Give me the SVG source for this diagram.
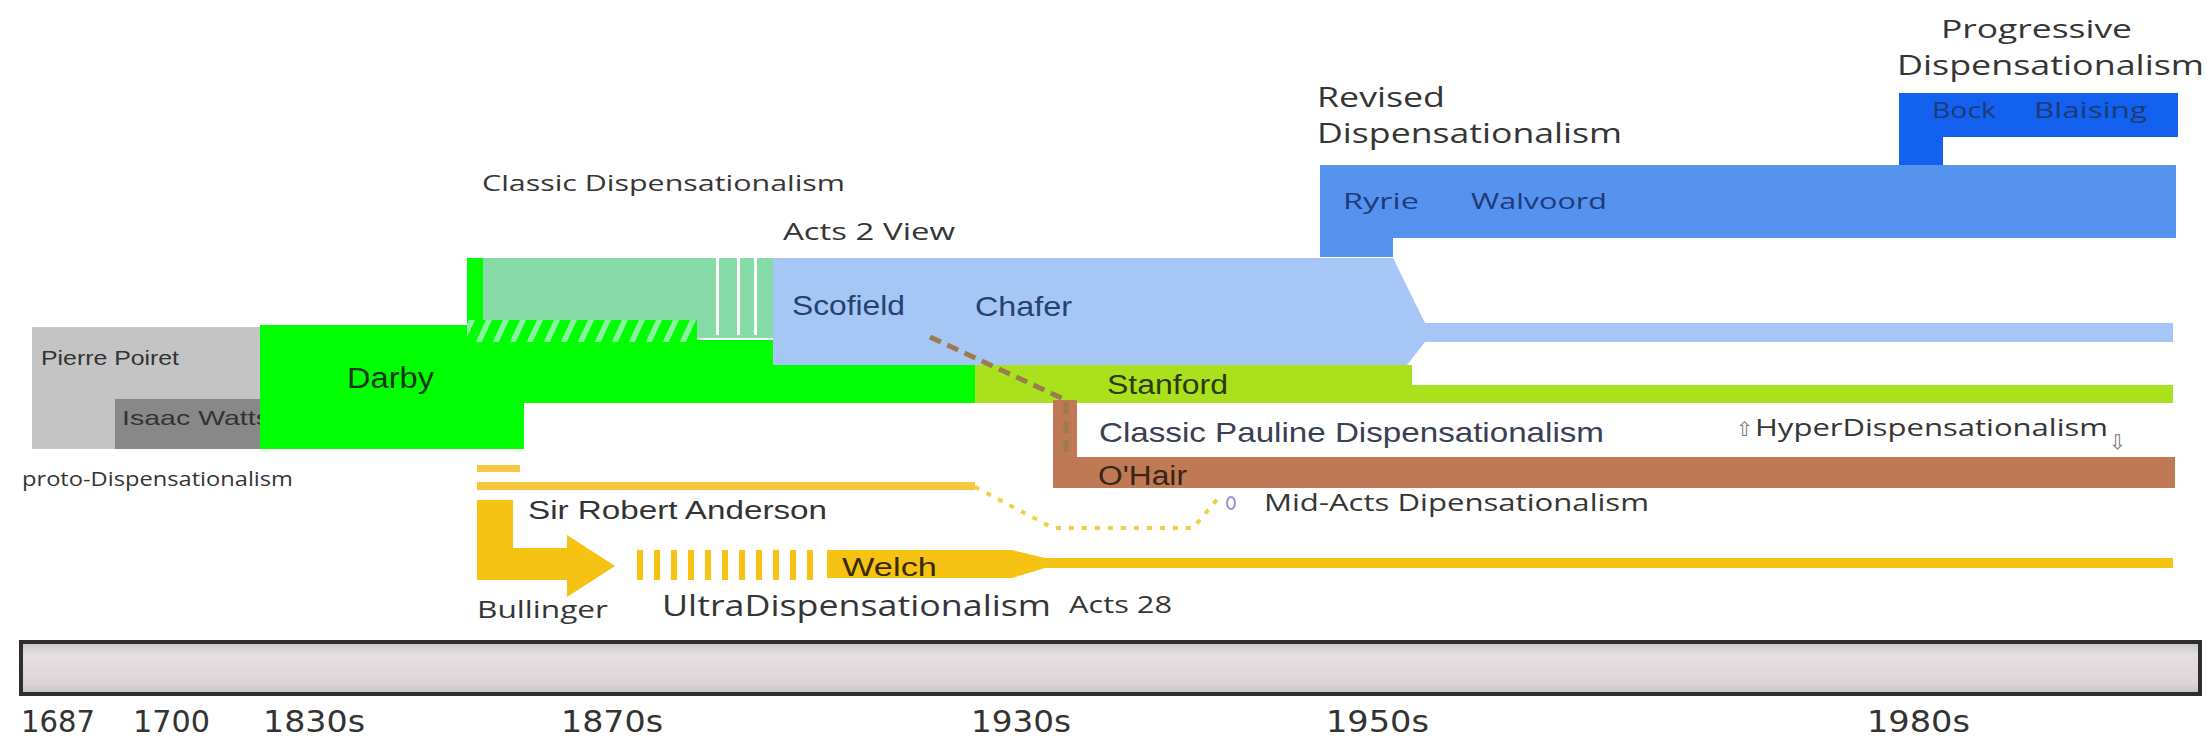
<svg xmlns="http://www.w3.org/2000/svg" width="2209" height="741" viewBox="0 0 2209 741">
<defs>
<style>
.os{font-family:"Open Sans","DejaVu Sans",sans-serif;fill:#353535}
.ls{font-family:"Liberation Sans",Arial,sans-serif;fill:#333}
.yr{font-family:"DejaVu Sans","Liberation Sans",sans-serif;fill:#333;font-size:31px}
.gold{fill:#f6c214}
.dk{fill:#1f3a78}
</style>
<pattern id="hatch" width="17" height="24" patternUnits="userSpaceOnUse" patternTransform="translate(467,320) skewX(-25)">
<rect width="17" height="24" fill="#00ff00"/>
<rect x="2" width="6" height="24" fill="#8cf0a2"/>
</pattern>
<linearGradient id="bar" x1="0" y1="0" x2="0" y2="1">
<stop offset="0" stop-color="#c9c3c5"/>
<stop offset="0.25" stop-color="#e6dfe1"/>
<stop offset="0.8" stop-color="#dcd4d7"/>
<stop offset="1" stop-color="#c6bfc2"/>
</linearGradient>
</defs>
<rect width="2209" height="741" fill="#ffffff"/>

<g id="proto">
<rect x="32" y="327" width="228" height="122" fill="#c4c4c4"/>
<rect x="115" y="399" width="145" height="50" fill="#888888"/>
<text class="ls" x="41" y="365" font-size="21" textLength="138" lengthAdjust="spacingAndGlyphs">Pierre Poiret</text>
<text class="ls" x="122" y="425" font-size="21" textLength="148" lengthAdjust="spacingAndGlyphs">Isaac Watts</text>
<text class="os" x="22" y="486" font-size="20" textLength="271" lengthAdjust="spacingAndGlyphs">proto-Dispensationalism</text>
</g>

<g id="darby">
<rect x="260" y="325" width="264" height="124" fill="#00ff00"/>
<rect x="467" y="258" width="16" height="85" fill="#00ff00"/>
<rect x="467" y="340" width="508" height="63" fill="#00ff00"/>
<text x="347" y="388" font-family="Liberation Sans, Arial, sans-serif" font-size="30" fill="#17351a" textLength="87" lengthAdjust="spacingAndGlyphs">Darby</text>
</g>

<g id="classic">
<rect x="483" y="258" width="290" height="80" fill="#86dba6"/>
<rect x="467" y="320" width="230" height="22" fill="url(#hatch)"/>
<rect x="716" y="258" width="3" height="77" fill="#ffffff"/>
<rect x="737" y="258" width="3" height="77" fill="#ffffff"/>
<rect x="754" y="258" width="3" height="77" fill="#ffffff"/>
<text class="os" x="482" y="191" font-size="22" textLength="363" lengthAdjust="spacingAndGlyphs">Classic Dispensationalism</text>
</g>

<g id="acts2">
<polygon points="773,258 1393,258 1425,323 2173,323 2173,342 1425,342 1407,365 773,365" fill="#a6c6f6"/>
<text class="os" x="783" y="240" font-size="24" textLength="172" lengthAdjust="spacingAndGlyphs">Acts 2 View</text>
<text x="792" y="315" font-family="Liberation Sans, Arial, sans-serif" font-size="28" fill="#27406e" textLength="113" lengthAdjust="spacingAndGlyphs">Scofield</text>
<text x="975" y="316" font-family="Liberation Sans, Arial, sans-serif" font-size="28" fill="#27406e" textLength="97" lengthAdjust="spacingAndGlyphs">Chafer</text>
</g>

<g id="revised">
<polygon points="1320,165 2176,165 2176,238 1393,238 1393,257 1320,257" fill="#5593ef"/>
<text class="os" x="1317" y="107" font-size="28" textLength="128" lengthAdjust="spacingAndGlyphs">Revised</text>
<text class="os" x="1317" y="143" font-size="28" textLength="305" lengthAdjust="spacingAndGlyphs">Dispensationalism</text>
<text class="os dk" x="1343" y="209" font-size="22" textLength="76" lengthAdjust="spacingAndGlyphs">Ryrie</text>
<text class="os dk" x="1471" y="209" font-size="22" textLength="136" lengthAdjust="spacingAndGlyphs">Walvoord</text>
</g>

<g id="progressive">
<polygon points="1899,93 2178,93 2178,137 1943,137 1943,165 1899,165" fill="#1262ef"/>
<text class="os" x="1941" y="38" font-size="25" textLength="191" lengthAdjust="spacingAndGlyphs">Progressive</text>
<text class="os" x="1897" y="75" font-size="27" textLength="307" lengthAdjust="spacingAndGlyphs">Dispensationalism</text>
<text class="os dk" x="1932" y="118" font-size="22" textLength="64" lengthAdjust="spacingAndGlyphs">Bock</text>
<text class="os dk" x="2034" y="118" font-size="22" textLength="113" lengthAdjust="spacingAndGlyphs">Blaising</text>
</g>

<g id="stanford">
<polygon points="975,365 1412,365 1412,385 2173,385 2173,403 975,403" fill="#a9e21c"/>
<text x="1107" y="394" font-family="Liberation Sans, Arial, sans-serif" font-size="27" fill="#2c3a0e" textLength="121" lengthAdjust="spacingAndGlyphs">Stanford</text>
</g>

<g id="pauline">
<text x="1099" y="442" font-family="Liberation Sans, Arial, sans-serif" font-size="28" fill="#3a4052" textLength="505" lengthAdjust="spacingAndGlyphs">Classic Pauline Dispensationalism</text>
</g>

<g id="hyper">
<text x="1736" y="436" font-family="DejaVu Sans, sans-serif" font-size="20" fill="#777">⇧</text>
<text class="os" x="1755" y="436" font-size="24" textLength="353" lengthAdjust="spacingAndGlyphs">HyperDispensationalism</text>
<text x="2109" y="449" font-family="DejaVu Sans, sans-serif" font-size="20" fill="#777">⇩</text>
</g>

<g id="ohair">
<polygon points="1053,400 1077,400 1077,457 2175,457 2175,488 1053,488" fill="#bf7a55"/>
<text x="1098" y="485" font-family="Liberation Sans, Arial, sans-serif" font-size="27" fill="#3a2414" textLength="89" lengthAdjust="spacingAndGlyphs">O'Hair</text>
</g>

<g id="anderson">
<rect x="477" y="465" width="43" height="7" fill="#f6c640"/>
<rect x="477" y="482" width="498" height="8" fill="#f6c640"/>
<text class="ls" x="528" y="519" font-size="26" textLength="299" lengthAdjust="spacingAndGlyphs">Sir Robert Anderson</text>
</g>

<g id="midacts">
<ellipse cx="1231" cy="503" rx="4" ry="6" fill="none" stroke="#9a90d0" stroke-width="2"/>
<text class="os" x="1264" y="511" font-size="24" textLength="385" lengthAdjust="spacingAndGlyphs">Mid-Acts Dipensationalism</text>
</g>

<g id="bullinger">
<polygon class="gold" points="477,500 513,500 513,548 567,548 567,535 615,566 567,597 567,580 477,580"/>
<text class="os" x="477" y="618" font-size="24" textLength="131" lengthAdjust="spacingAndGlyphs">Bullinger</text>
</g>

<g id="ultra">
<rect class="gold" x="637" y="550" width="6" height="30"/>
<rect class="gold" x="654" y="550" width="6" height="30"/>
<rect class="gold" x="671" y="550" width="6" height="30"/>
<rect class="gold" x="688" y="550" width="6" height="30"/>
<rect class="gold" x="705" y="550" width="6" height="30"/>
<rect class="gold" x="722" y="550" width="6" height="30"/>
<rect class="gold" x="739" y="550" width="6" height="30"/>
<rect class="gold" x="756" y="550" width="6" height="30"/>
<rect class="gold" x="773" y="550" width="6" height="30"/>
<rect class="gold" x="790" y="550" width="6" height="30"/>
<rect class="gold" x="807" y="550" width="6" height="30"/>
<text class="os" x="662" y="616" font-size="30" textLength="389" lengthAdjust="spacingAndGlyphs">UltraDispensationalism</text>
</g>

<g id="welch">
<polygon class="gold" points="827,550 1012,550 1045,558 2173,558 2173,568 1045,568 1012,578 827,578"/>
<text x="842" y="576" font-family="Liberation Sans, Arial, sans-serif" font-size="26" fill="#3a2a00" textLength="95" lengthAdjust="spacingAndGlyphs">Welch</text>
<text class="os" x="1069" y="613" font-size="24" textLength="103" lengthAdjust="spacingAndGlyphs">Acts 28</text>
</g>

<g id="connectors">
<polyline points="930,337 1066,400 1066,457" fill="none" stroke="#9c7c4e" stroke-width="5" stroke-dasharray="12 7"/>
<polyline points="975,487 1053,528 1193,528 1220,496" fill="none" stroke="#f0d040" stroke-width="4" stroke-dasharray="5 8"/>
</g>

<g id="timeline">
<rect x="21" y="642" width="2179" height="52" fill="url(#bar)" stroke="#2e2e2e" stroke-width="4"/>
<text class="yr" x="21" y="732" textLength="74" lengthAdjust="spacingAndGlyphs">1687</text>
<text class="yr" x="133" y="732" textLength="77" lengthAdjust="spacingAndGlyphs">1700</text>
<text class="yr" x="263" y="732" textLength="102" lengthAdjust="spacingAndGlyphs">1830s</text>
<text class="yr" x="561" y="732" textLength="102" lengthAdjust="spacingAndGlyphs">1870s</text>
<text class="yr" x="971" y="732" textLength="100" lengthAdjust="spacingAndGlyphs">1930s</text>
<text class="yr" x="1326" y="732" textLength="103" lengthAdjust="spacingAndGlyphs">1950s</text>
<text class="yr" x="1867" y="732" textLength="103" lengthAdjust="spacingAndGlyphs">1980s</text>
</g>
</svg>
